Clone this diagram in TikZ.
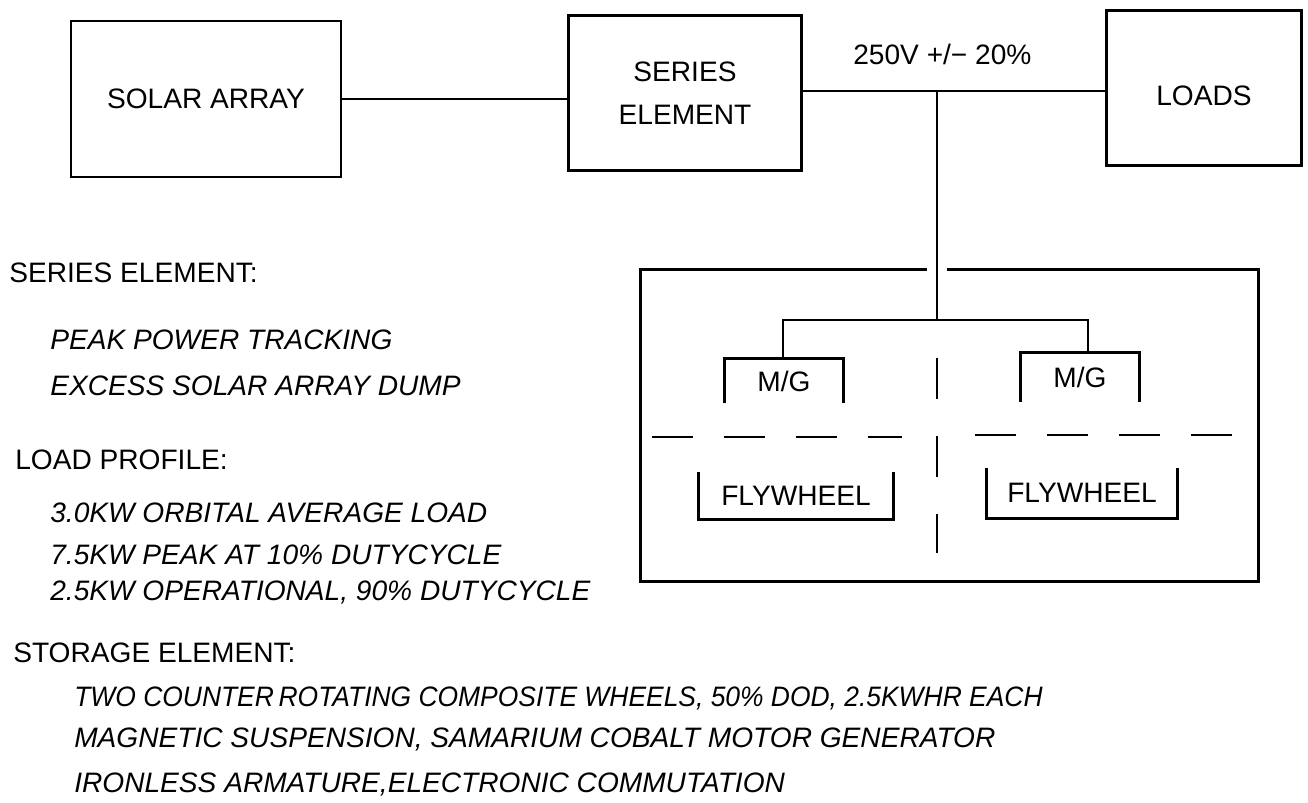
\documentclass[tikz,border=0pt]{standalone}
\usepackage{fontspec}
\setmainfont{Liberation Sans}
\usetikzlibrary{positioning, calc}

\begin{document}
\begin{tikzpicture}[
    x=0.02cm, y=-0.02cm,
    line width=1.5pt,
    box/.style={rectangle, draw, line width=1.5pt, align=center, inner sep=0pt, font=\fontsize{16}{24.5}\selectfont},
    unit/.style={rectangle, inner sep=0pt, font=\fontsize{16}{19}\selectfont},
    head/.style={anchor=base west, inner sep=0pt, font=\fontsize{16}{19}\selectfont},
    item/.style={anchor=base west, inner sep=0pt, font=\fontsize{16}{19}\selectfont\itshape},
    divider/.style={line width=1.5pt, dash pattern=on 0.82cm off 0.62cm}
]
\useasboundingbox (0,0) rectangle (1308,803);

% Top row: source, regulator, loads
\node[box, minimum width=5.4cm, minimum height=3.12cm] (solar) at (206,99) {SOLAR ARRAY};
\node[box, minimum width=4.66cm, minimum height=3.1cm] (series) at (685,93) {SERIES\\ELEMENT};
\node[box, minimum width=3.9cm, minimum height=3.1cm, text height=19.5pt, text depth=0pt] (loads) at (1204,88) {LOADS};
\coordinate (tap) at (937,91);
\node[head] (volts) at (852,65) {250V +/− 20\%};

\draw (solar.east) -- (solar.east -| series.west);
\draw (series.east |- tap) -- (loads.west |- tap);

% Storage element
\node[rectangle, inner sep=0pt, minimum width=12.3cm, minimum height=6.18cm] (store) at (949.5,425.5) {};
\draw ($(store.north -| tap)+(-10,0)$) -- (store.north west) -- (store.south west)
    -- (store.south east) -- (store.north east) -- ($(store.north -| tap)+(10,0)$);
\coordinate (jn) at (937,320);
\coordinate (jL) at (783,320);
\coordinate (jR) at (1088,320);

\node[unit, minimum width=2.32cm, minimum height=0.84cm] (mgL) at (784,381) {M/G};
\node[unit, minimum width=2.32cm, minimum height=0.94cm] (mgR) at (1080,377) {M/G};
\node[unit, minimum width=3.86cm, minimum height=0.9cm] (flyL) at (796,496) {FLYWHEEL};
\node[unit, minimum width=3.78cm, minimum height=0.96cm] (flyR) at (1082,493) {FLYWHEEL};

\draw (tap) -- (jn);
\draw (jL |- mgL.north) -- (jL) -- (jR) -- (jR |- mgR.north);
\draw (mgL.south west) -- (mgL.north west) -- (mgL.north east) -- (mgL.south east);
\draw (mgR.south west) -- (mgR.north west) -- (mgR.north east) -- (mgR.south east);
\draw (flyL.north west) -- (flyL.south west) -- (flyL.south east) -- (flyL.north east);
\draw (flyR.north west) -- (flyR.south west) -- (flyR.south east) -- (flyR.north east);

% dashed split between motor side and wheel side
\draw[divider] (652,437) -- (902,437);
\draw[divider] (975,435) -- (1232,435);
\draw[divider, dash pattern=on 0.82cm off 0.74cm] (937,358) -- (937,553);

% Notes
\node[head] (sehead) at (8,283) {SERIES ELEMENT:};
\node[item] (se1) at (49,350) {PEAK POWER TRACKING};
\node[item] (se2) at (49,396) {EXCESS SOLAR ARRAY DUMP};
\node[head] (lphead) at (14,470) {LOAD PROFILE:};
\node[item] (lp1) at (49,522) {3.0KW ORBITAL AVERAGE LOAD};
\node[item] (lp2) at (49,564) {7.5KW PEAK AT 10\% DUTYCYCLE};
\node[item] (lp3) at (49,600) {2.5KW OPERATIONAL, 90\% DUTYCYCLE};
\node[head] (sthead) at (12,662) {STORAGE ELEMENT:};
\node[item, font=\fontsize{16}{19}\selectfont\itshape\addfontfeature{FakeStretch=0.94}] (st1) at (73,706) {TWO COUNTER\,ROTATING COMPOSITE WHEELS, 50\% DOD, 2.5KWHR EACH};
\node[item] (st2) at (73,747) {MAGNETIC SUSPENSION, SAMARIUM COBALT MOTOR GENERATOR};
\node[item] (st3) at (73,792) {IRONLESS ARMATURE,ELECTRONIC COMMUTATION};

\end{tikzpicture}
\end{document}
